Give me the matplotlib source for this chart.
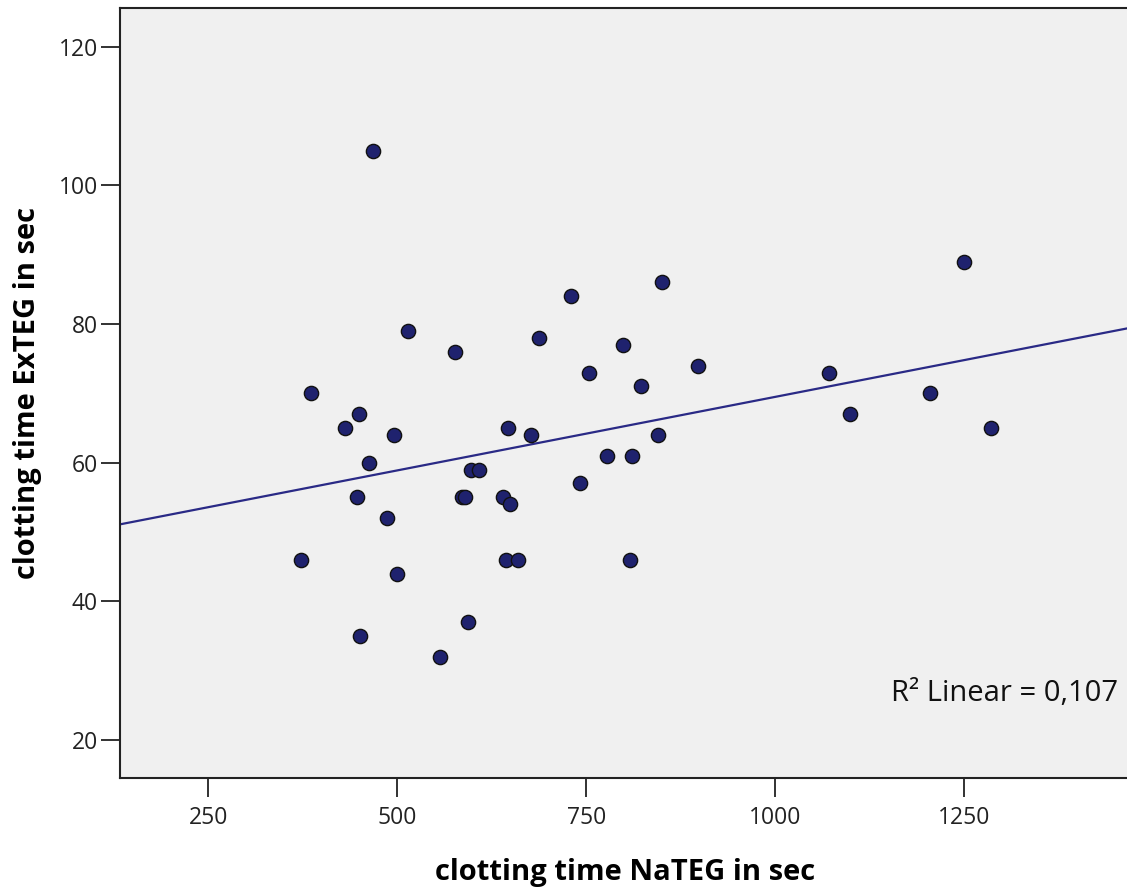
import numpy as np
import matplotlib
matplotlib.use("Agg")
import matplotlib.pyplot as plt

plt.rcParams['font.family'] = ['Open Sans', 'DejaVu Sans']

# clotting time NaTEG (sec)
nateg = [467, 514, 576, 730, 850, 687, 799, 753, 897, 385, 822, 449, 430, 496,
         646, 677, 844, 462, 777, 810, 597, 608, 742, 447, 585, 589, 640, 649,
         486, 373, 644, 660, 808, 500, 593, 450, 556, 1071, 1249, 1205, 1098, 1285]
# clotting time ExTEG (sec)
exteg = [105, 79, 76, 84, 86, 78, 77, 73, 74, 70, 71, 67, 65, 64,
         65, 64, 64, 60, 61, 61, 59, 59, 57, 55, 55, 55, 55, 54,
         52, 46, 46, 46, 46, 44, 37, 35, 32, 73, 89, 70, 67, 65]

x_ticks = [250, 500, 750, 1000, 1250]
y_ticks = [20, 40, 60, 80, 100, 120]
r2_label = "R² Linear = 0,107"

x = np.array(nateg, dtype=float)
y = np.array(exteg, dtype=float)
slope, intercept = np.polyfit(x, y, 1)

fig = plt.figure(figsize=(11.27, 8.89), dpi=100)
ax = fig.add_axes([120/1127, (889-778)/889, 1.0 - 120/1127 + 0.002, (778-8)/889])
ax.set_facecolor('#f0f0f0')

xlim = (133, 1468)
ax.set_xlim(*xlim)
ax.set_ylim(14.5, 125.6)

xx = np.array(xlim, dtype=float)
ax.plot(xx, slope*xx + intercept, color='#2a2a86', lw=1.6, zorder=2)
ax.scatter(x, y, s=105, facecolor='#1f226e', edgecolor='#111111', linewidth=1.0, zorder=3)

ax.set_xticks(x_ticks)
ax.set_yticks(y_ticks)
ax.tick_params(direction='out', length=14, width=1.3, colors='#222222',
               labelsize=16.5)
ax.tick_params(axis='x', pad=6)
ax.tick_params(axis='y', pad=2)
for s in ['left', 'bottom', 'top']:
    ax.spines[s].set_linewidth(1.5)
    ax.spines[s].set_color('#222222')
ax.spines['right'].set_visible(False)

ax.set_xlabel('clotting time NaTEG in sec', fontsize=21, fontweight='bold', labelpad=20)
ax.set_ylabel('clotting time ExTEG in sec', fontsize=21, fontweight='bold', labelpad=12)

ax.text(0.989, 0.110, r2_label, transform=ax.transAxes, ha='right', va='center',
        fontsize=21, color='#111111')

fig.savefig('out.png', dpi=100)
